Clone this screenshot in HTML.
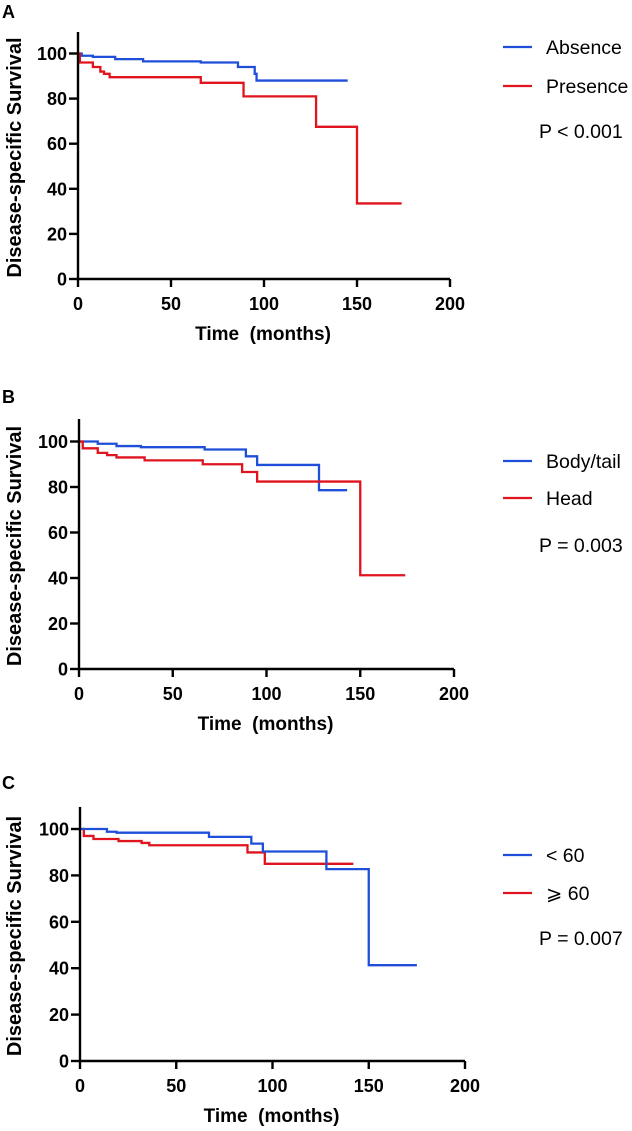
<!DOCTYPE html>
<html><head><meta charset="utf-8">
<style>
html,body{margin:0;padding:0;background:#fff;}
svg{display:block;font-family:"Liberation Sans",Arial,sans-serif;}
</style></head>
<body>
<svg id="fig" width="632" height="1131" viewBox="0 0 632 1131" xmlns="http://www.w3.org/2000/svg"></svg>
<script>
// Panel A data
const aBlueT=[0,2,8,20,35,66,86,95,96,145];
const aBlueS=[100,99,98.5,97.5,96.5,96,94,91,88,88];
const aRedT=[0,1,8,12,14,17,66,89,128,150,174];
const aRedS=[100,96,94,92,91,89.5,87,81,67.5,33.5,33.5];
// Panel B data
const bBlueT=[0,10,20,33,67,89,95,128,143];
const bBlueS=[100,99,98,97.5,96.5,93.5,89.7,78.6,78.6];
const bRedT=[0,2,10,15,20,35,66,87,95,150,174];
const bRedS=[100,97,95,94,93,91.7,90,86.6,82.4,41.2,41.2];
// Panel C data
const cBlueT=[0,14,19,67,89,95,128,150,175];
const cBlueS=[100,98.8,98.4,96.6,93.7,90.3,82.7,41.3,41.3];
const cRedT=[0,2,7,20,32,36,87,96,142];
const cRedS=[100,97,95.7,94.8,94,93,89.9,85,85];
const xTicks=[0,50,100,150,200];
const yTicks=[0,20,40,60,80,100];

const NS="http://www.w3.org/2000/svg";
const svg=document.getElementById('fig');
function mk(tag,attrs,parent){const e=document.createElementNS(NS,tag);for(const k in attrs)e.setAttribute(k,attrs[k]);(parent||svg).appendChild(e);return e;}

function panel(p){
  const g=mk('g',{});
  
  
  const xs=v=>p.x0+(p.x200-p.x0)*v/200;
  const ys=v=>p.y0+(p.y100-p.y0)*v/100;
  const L=mk('text',{x:2,y:p.letterY,'font-size':18,'font-weight':'bold'},g);L.textContent=p.id;
  
  
  p.series.forEach(s=>{
    let d='M'+xs(s.t[0])+','+ys(s.s[0]);
    for(let i=1;i<s.t.length;i++){d+=' H'+xs(s.t[i])+' V'+ys(s.s[i]);}
    const path=mk('path',{d:d,fill:'none',stroke:s.color,'stroke-width':2.3},g);
    
    
  });
  const ax=mk('path',{d:`M${p.x0},${p.yTop} V${p.y0} H${p.x200}`,fill:'none',stroke:'#000','stroke-width':2.4},g);
  
  
  xTicks.forEach(v=>{
    mk('line',{x1:xs(v),x2:xs(v),y1:p.y0,y2:p.y0+8,stroke:'#000','stroke-width':2.4},g);
    const t=mk('text',{x:xs(v),y:p.y0+31,'font-size':18,'font-weight':'bold','text-anchor':'middle'},g);
    t.textContent=v;
    
    
  });
  yTicks.forEach(v=>{
    mk('line',{x1:p.x0-9,x2:p.x0,y1:ys(v),y2:ys(v),stroke:'#000','stroke-width':2.4},g);
    const t=mk('text',{x:p.x0-11,y:ys(v)+6.5,'font-size':18,'font-weight':'bold','text-anchor':'end'},g);
    t.textContent=v;
    
    
  });
  const xt=mk('text',{x:(p.x0+p.x200)/2-1,y:p.y0+61,'font-size':19,'font-weight':'bold','text-anchor':'middle'},g);
  xt.textContent='Time\u00a0 (months)';
  
  
  const cy=(p.y0+p.yTop)/2+2;
  const yt=mk('text',{x:0,y:0,'font-size':20,'font-weight':'bold','text-anchor':'middle',transform:`translate(21,${cy}) rotate(-90)`},g);
  yt.textContent='Disease-specific Survival';
  
  
  p.legend.forEach((l,i)=>{
    const ly=p.legY[i];
    mk('line',{x1:503,x2:532,y1:ly,y2:ly,stroke:l.color,'stroke-width':2.3},g);
    const t=mk('text',{x:546,y:ly+7,'font-size':19.5},g);
    t.textContent=l.label;
    
    
  });
  const pv=mk('text',{x:539,y:p.pY+7,'font-size':19.5},g);
  pv.textContent=p.pText;
  
  
}
const BLUE='#1f4fd8',RED='#e0141e';
panel({id:'A',letterY:18,x0:78,x200:450,y0:279,y100:53.5,yTop:32,
  series:[{t:aBlueT,s:aBlueS,color:BLUE,name:'absence-curve'},{t:aRedT,s:aRedS,color:RED,name:'presence-curve'}],
  legend:[{label:'Absence',color:BLUE},{label:'Presence',color:RED}],legY:[47,86],pY:131,pText:'P < 0.001'});
panel({id:'B',letterY:403,x0:79,x200:454,y0:669,y100:441.5,yTop:419,
  series:[{t:bBlueT,s:bBlueS,color:BLUE,name:'body-tail-curve'},{t:bRedT,s:bRedS,color:RED,name:'head-curve'}],
  legend:[{label:'Body/tail',color:BLUE},{label:'Head',color:RED}],legY:[461,498],pY:545,pText:'P = 0.003'});
panel({id:'C',letterY:789,x0:80,x200:465,y0:1061,y100:829,yTop:807,
  series:[{t:cRedT,s:cRedS,color:RED,name:'age-60-plus-curve'},{t:cBlueT,s:cBlueS,color:BLUE,name:'age-under-60-curve'}],
  legend:[{label:'< 60',color:BLUE},{label:'⩾ 60',color:RED}],legY:[855,893],pY:938,pText:'P = 0.007'});
</script>
</body></html>
